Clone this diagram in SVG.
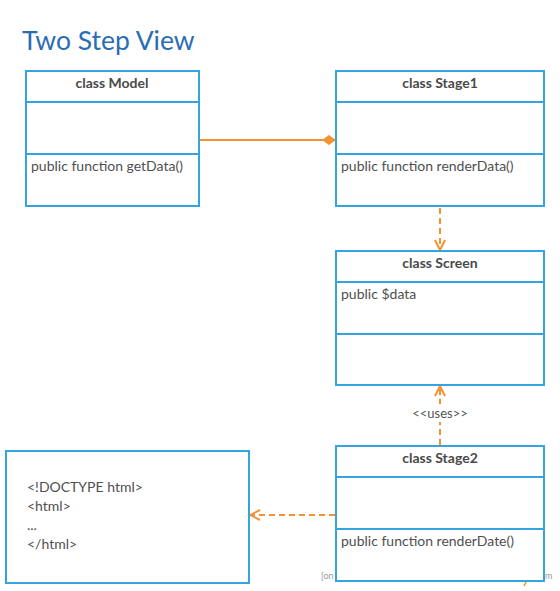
<svg xmlns="http://www.w3.org/2000/svg" width="560" height="591" viewBox="0 0 560 591">
<style>
.box{fill:#fff;stroke:#35a3dd;stroke-width:2}
.sep{stroke:#35a3dd;stroke-width:2}
.hd{font-family:Lato,"Liberation Sans",sans-serif;font-size:14px;font-weight:bold;fill:#4a4a4a;text-anchor:middle}
.mb{font-family:Lato,"Liberation Sans",sans-serif;font-size:14px;fill:#4f4f4f}
.con{fill:none;stroke:#f39233;stroke-width:2}
.dash{stroke-dasharray:6,4}
</style>
<defs>
<marker id="open" viewBox="0 0 12 12" refX="11" refY="6" markerWidth="12" markerHeight="12" markerUnits="userSpaceOnUse" orient="auto">
<path d="M1,1 L11,6 L1,11" fill="none" stroke="#f39233" stroke-width="2"/>
</marker>
<marker id="diamond" viewBox="0 0 16 12" refX="15" refY="6" markerWidth="16" markerHeight="12" markerUnits="userSpaceOnUse" orient="auto">
<path d="M1,6 L8,1 L15,6 L8,11 Z" fill="#f39233"/>
</marker>
</defs>
<rect width="560" height="591" fill="#fff"/>
<text x="22" y="50" font-family="Lato,'Liberation Sans',sans-serif" font-size="26.5" fill="#2b6db5">Two Step View</text>
<g id="connectors">
<line class="con" x1="200" y1="140" x2="336" y2="140" marker-end="url(#diamond)"/>
<line class="con dash" x1="440" y1="208" x2="440" y2="250" marker-end="url(#open)"/>
<line class="con dash" x1="440" y1="445" x2="440" y2="386" marker-end="url(#open)"/>
<line class="con dash" x1="335" y1="515" x2="250" y2="515" marker-end="url(#open)"/>
<rect x="404" y="404" width="72" height="18" fill="#fff"/>
<text x="440" y="418" font-family="Lato,'Liberation Sans',sans-serif" font-size="13" fill="#555" text-anchor="middle">&lt;&lt;uses&gt;&gt;</text>
</g>
<g id="watermark">
<text x="321" y="579" font-family="Lato,'Liberation Sans',sans-serif" font-size="9" fill="#999">[on</text>
<text x="545" y="579" font-family="Lato,'Liberation Sans',sans-serif" font-size="9" fill="#999">m</text>
<line x1="527" y1="580" x2="524" y2="586" stroke="#f39233" stroke-width="1.5"/>
</g>
<g id="model">
<rect class="box" x="26" y="71" width="173" height="135"/>
<line class="sep" x1="26" y1="102" x2="199" y2="102"/>
<line class="sep" x1="26" y1="154" x2="199" y2="154"/>
<text class="hd" x="112" y="88">class Model</text>
<text class="mb" x="31" y="171">public function getData()</text>
</g>
<g id="stage1">
<rect class="box" x="336" y="71" width="208" height="135"/>
<line class="sep" x1="336" y1="102" x2="544" y2="102"/>
<line class="sep" x1="336" y1="154" x2="544" y2="154"/>
<text class="hd" x="440" y="88">class Stage1</text>
<text class="mb" x="341" y="171">public function renderData()</text>
</g>
<g id="screen">
<rect class="box" x="336" y="251" width="208" height="134"/>
<line class="sep" x1="336" y1="282" x2="544" y2="282"/>
<line class="sep" x1="336" y1="334" x2="544" y2="334"/>
<text class="hd" x="440" y="268">class Screen</text>
<text class="mb" x="341" y="299">public $data</text>
</g>
<g id="stage2">
<rect class="box" x="336" y="446" width="208" height="135"/>
<line class="sep" x1="336" y1="477" x2="544" y2="477"/>
<line class="sep" x1="336" y1="529" x2="544" y2="529"/>
<text class="hd" x="440" y="463">class Stage2</text>
<text class="mb" x="341" y="546">public function renderDate()</text>
</g>
<g id="html">
<rect class="box" x="6" y="451" width="243" height="132"/>
<text class="mb" x="27" y="492" font-size="13">&lt;!DOCTYPE html&gt;</text>
<text class="mb" x="27" y="511" font-size="13">&lt;html&gt;</text>
<text class="mb" x="27" y="530" font-size="13">...</text>
<text class="mb" x="27" y="549" font-size="13">&lt;/html&gt;</text>
</g>
</svg>
